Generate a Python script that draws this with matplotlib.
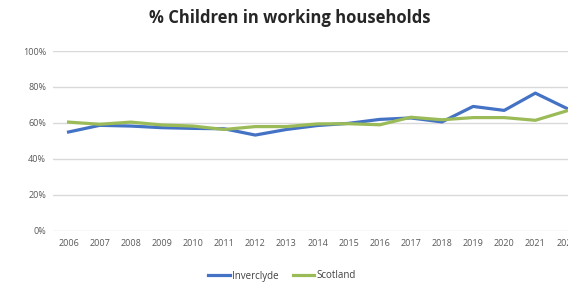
import matplotlib.pyplot as plt
import numpy as np
from matplotlib.ticker import PercentFormatter

years = [str(y) for y in range(2006, 2023)]
inverclyde = [55.0, 58.7, 58.3, 57.4, 57.0, 56.8, 53.3, 56.4, 58.6, 59.8, 62.0, 62.8, 60.6, 69.2, 67.0, 76.6, 68.2]
scotland = [60.5, 59.3, 60.5, 58.9, 58.3, 56.4, 58.0, 58.0, 59.5, 59.6, 59.0, 63.2, 61.8, 63.0, 63.0, 61.5, 66.7]

plt.rcParams["font.family"] = ["Open Sans", "DejaVu Sans"]

fig = plt.figure(figsize=(5.68, 2.87), dpi=100, facecolor="white")
ax = fig.add_axes([53 / 568, 56 / 287, 529 / 568, 180 / 287])

x = np.arange(len(years))
ax.plot(x, inverclyde, color="#4472C4", linewidth=2.3, label="Inverclyde", solid_joinstyle="round")
ax.plot(x, scotland, color="#9BBB59", linewidth=2.3, label="Scotland", solid_joinstyle="round")

ax.set_xlim(-0.5, len(years) - 0.5)
ax.set_ylim(0, 100)
ax.set_yticks(range(0, 101, 20))
ax.yaxis.set_major_formatter(PercentFormatter(decimals=0))
ax.set_xticks(x, years)
ax.grid(axis="y", color="#d9d9d9", linewidth=1)
ax.set_axisbelow(True)
for spine in ax.spines.values():
    spine.set_visible(False)
ax.tick_params(length=0, labelsize=6.5, colors="#595959", pad=6)
ax.tick_params(axis="y", pad=5)

fig.text(290 / 568, 1 - 18 / 287, "% Children in working households", ha="center", va="center",
         fontsize=12, fontweight="bold", color="#262626")
fig.legend(loc="center", bbox_to_anchor=(282 / 568, 1 - 276 / 287), ncol=2, frameon=False,
           fontsize=7, handlelength=2.2, handletextpad=0.2, columnspacing=1.5,
           labelcolor="#404040")

fig.savefig("out.png", dpi=100, facecolor="white")
